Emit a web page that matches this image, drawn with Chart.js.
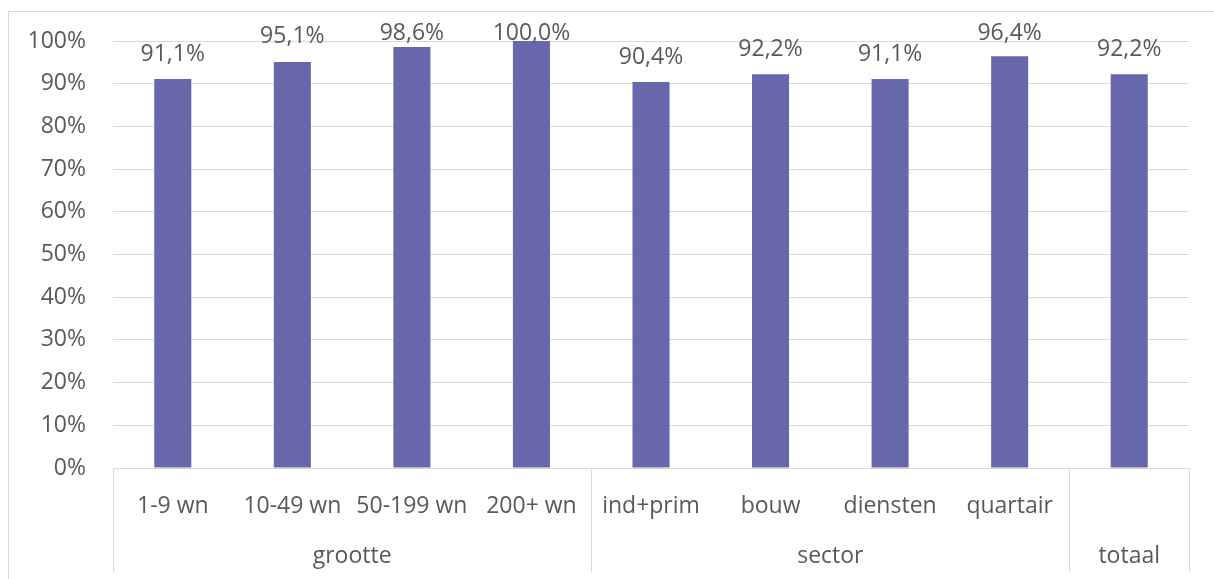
<!DOCTYPE html>
<html>
<head>
<meta charset="utf-8">
<script src="https://cdn.jsdelivr.net/npm/chart.js@4.4.1/dist/chart.umd.min.js"></script>
<style>
  html, body { margin: 0; padding: 0; background: #ffffff; }
  #wrap { width: 1214px; height: 579px; position: relative; }
</style>
</head>
<body>
<div id="wrap"><canvas id="c" width="1214" height="579"></canvas></div>
<script>
// Share of companies per group (percent)
const categories = ['1-9 wn', '10-49 wn', '50-199 wn', '200+ wn', 'ind+prim', 'bouw', 'diensten', 'quartair', ''];
const values = [91.1, 95.1, 98.6, 100.0, 90.4, 92.2, 91.1, 96.4, 92.2];
const groupNames = ['grootte', 'sector', 'totaal'];
const groupSizes = [4, 4, 1];
const yTicks = [0, 10, 20, 30, 40, 50, 60, 70, 80, 90, 100];

const FONT = '"Open Sans", "Noto Sans", sans-serif';
const FSIZE = 23;
const TEXT = '#595959';
const LINE = '#D9D9D9';
const BAR = '#6668AB';

const fmt = v => v.toFixed(1).replace('.', ',') + '%';

// Value labels above each bar, kept inside the plot area
const valueLabels = {
  id: 'valueLabels',
  afterDatasetsDraw(chart) {
    const ctx = chart.ctx;
    const meta = chart.getDatasetMeta(0);
    ctx.save();
    ctx.font = FSIZE + 'px ' + FONT;
    ctx.fillStyle = TEXT;
    ctx.textAlign = 'center';
    ctx.textBaseline = 'middle';
    meta.data.forEach((bar, i) => {
      const y = Math.max(bar.y - 25, chart.chartArea.top - 8);
      ctx.fillText(fmt(values[i]), bar.x, y);
    });
    ctx.restore();
  }
};

// Two-level category axis: group labels and separators
const groupAxis = {
  id: 'groupAxis',
  afterDraw(chart) {
    const ctx = chart.ctx;
    const area = chart.chartArea;
    const step = (area.right - area.left) / categories.length;
    const bottom = 572;
    ctx.save();
    ctx.strokeStyle = LINE;
    ctx.lineWidth = 1;
    // outer frame (top and left edges)
    ctx.beginPath();
    ctx.moveTo(8.5, 579);
    ctx.lineTo(8.5, 11.5);
    ctx.lineTo(1214, 11.5);
    ctx.stroke();
    // axis line and group separators
    ctx.beginPath();
    ctx.moveTo(area.left, Math.round(area.bottom) + 0.5);
    ctx.lineTo(area.right, Math.round(area.bottom) + 0.5);
    let idx = 0;
    const edges = [0];
    groupSizes.forEach(n => { idx += n; edges.push(idx); });
    edges.forEach(e => {
      const px = Math.round(area.left + e * step) + 0.5;
      ctx.moveTo(px, area.bottom);
      ctx.lineTo(px, bottom);
    });
    ctx.stroke();
    // group labels
    ctx.font = FSIZE + 'px ' + FONT;
    ctx.fillStyle = TEXT;
    ctx.textAlign = 'center';
    ctx.textBaseline = 'middle';
    let start = 0;
    groupSizes.forEach((n, g) => {
      const cx = area.left + (start + n / 2) * step;
      ctx.fillText(groupNames[g], cx, 556);
      start += n;
    });
    ctx.restore();
  }
};

new Chart(document.getElementById('c'), {
  type: 'bar',
  data: {
    labels: categories,
    datasets: [{
      data: values,
      backgroundColor: BAR,
      borderWidth: 0,
      barPercentage: 0.31,
      categoryPercentage: 1.0
    }]
  },
  options: {
    responsive: false,
    animation: false,
    events: [],
    layout: { padding: { left: 8, right: 25, top: 41, bottom: 0 } },
    plugins: { legend: { display: false }, tooltip: { enabled: false } },
    scales: {
      y: {
        min: 0,
        max: 100,
        afterBuildTicks: s => { s.ticks = yTicks.map(v => ({ value: v })); },
        afterFit: s => { s.width = 105; },
        ticks: {
          callback: v => v + '%',
          color: TEXT,
          font: { family: FONT, size: FSIZE },
          padding: 27
        },
        grid: { color: LINE, lineWidth: 1, drawTicks: false },
        border: { display: false }
      },
      x: {
        afterFit: s => { s.height = 111; },
        ticks: {
          color: TEXT,
          font: { family: FONT, size: FSIZE },
          padding: 17,
          maxRotation: 0,
          autoSkip: false
        },
        grid: { display: false },
        border: { display: false }
      }
    }
  },
  plugins: [valueLabels, groupAxis]
});
</script>
</body>
</html>
